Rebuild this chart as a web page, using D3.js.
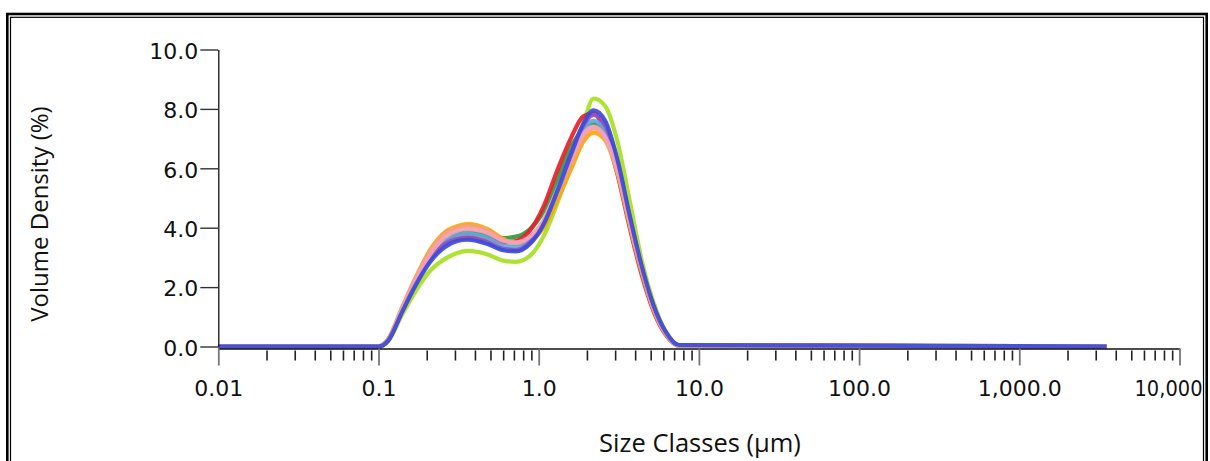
<!DOCTYPE html>
<html>
<head>
<meta charset="utf-8">
<script src="https://cdn.jsdelivr.net/npm/d3@7"></script>
<style>
  html, body { margin: 0; padding: 0; background: #fff; }
</style>
</head>
<body>
<svg id="chart"></svg>
<script>
// size classes (µm)
const sizes = [0.01, 0.1, 0.115, 0.14, 0.17, 0.21, 0.26, 0.31, 0.36, 0.48, 0.59, 0.72, 0.88,
  1.07, 1.3, 1.6, 1.9, 2.2, 2.6, 3.1, 3.7, 4.4, 5.2, 6.2, 7.5, 3500];

// volume density (%) per measurement
const lime = [0, 0, 0.18, 1.05, 1.85, 2.55, 2.95, 3.15, 3.22, 3.1, 2.9, 2.85, 3.05,
  3.7, 4.8, 6.2, 7.5, 8.35, 8.1, 6.9, 4.9, 2.9, 1.5, 0.5, 0.05, 0];
const green = [0, 0, 0.22, 1.22, 2.2, 3.05, 3.6, 3.8, 3.85, 3.75, 3.65, 3.7, 3.95,
  4.55, 5.6, 6.75, 7.3, 7.5, 7.1, 5.9, 4.15, 2.5, 1.25, 0.42, 0.04, 0];
const red = [0, 0, 0.22, 1.2, 2.15, 3.0, 3.5, 3.7, 3.75, 3.62, 3.5, 3.55, 3.9,
  4.7, 5.9, 7.05, 7.75, 7.85, 7.2, 5.8, 4.0, 2.4, 1.2, 0.4, 0.03, 0];
const orange = [0, 0, 0.25, 1.3, 2.3, 3.25, 3.85, 4.05, 4.12, 3.95, 3.65, 3.45, 3.55,
  4.0, 4.9, 6.0, 6.9, 7.2, 6.95, 5.85, 4.1, 2.5, 1.25, 0.42, 0.04, 0];
const salmon = [0, 0, 0.24, 1.28, 2.28, 3.2, 3.8, 4.0, 4.05, 3.9, 3.6, 3.5, 3.65,
  4.15, 5.1, 6.2, 7.05, 7.35, 7.0, 5.9, 4.15, 2.55, 1.3, 0.45, 0.04, 0];
const lightBlue = [0, 0, 0.22, 1.2, 2.15, 3.0, 3.55, 3.75, 3.8, 3.65, 3.42, 3.35, 3.55,
  4.15, 5.2, 6.4, 7.3, 7.6, 7.25, 6.05, 4.25, 2.6, 1.32, 0.46, 0.04, 0];
const purple = [0, 0, 0.21, 1.18, 2.1, 2.92, 3.45, 3.62, 3.65, 3.5, 3.3, 3.25, 3.5,
  4.15, 5.25, 6.55, 7.45, 7.8, 7.45, 6.2, 4.35, 2.65, 1.35, 0.48, 0.05, 0];
const pink = [0, 0, 0.23, 1.25, 2.22, 3.1, 3.68, 3.9, 3.95, 3.82, 3.58, 3.5, 3.7,
  4.25, 5.25, 6.35, 7.15, 7.4, 7.05, 5.95, 4.2, 2.6, 1.3, 0.45, 0.04, 0];
const blue = [0, 0, 0.2, 1.15, 2.05, 2.85, 3.35, 3.55, 3.6, 3.45, 3.25, 3.2, 3.45,
  4.1, 5.2, 6.5, 7.5, 7.95, 7.6, 6.3, 4.4, 2.7, 1.4, 0.5, 0.05, 0];

const seriesList = [lime, green, red, orange, salmon, lightBlue, purple, pink, blue];
const seriesColors = ["#a6e01e", "#2c9c3c", "#e8202a", "#ffa500", "#f4a07a",
  "#62a8e0", "#9450c4", "#f4a2b8", "#3c4cd6"];

// axis ticks
const xMajorTicks = [0.01, 0.1, 1, 10, 100, 1000, 10000];
const xTickLabels = ["0.01", "0.1", "1.0", "10.0", "100.0", "1,000.0", "10,000"];
const yTicks = [0, 2, 4, 6, 8, 10];
const yTickLabels = ["0.0", "2.0", "4.0", "6.0", "8.0", "10.0"];

// canvas variables
const width = 1210;
const height = 461;
const tickFont = "DejaVu Sans, sans-serif";
const titleFont = "Open Sans, sans-serif";

const svg = d3.select("#chart").attr("width", width).attr("height", height);

// scales
const xScale = d3.scaleLog().domain([0.01, 10000]).range([218.3, 1179.5]);
const yScale = d3.scaleLinear().domain([0, 10]).range([346.5, 49.5]);

const minorTicks = [];
xMajorTicks.slice(0, -1).forEach((d) => {
  for (let k = 2; k <= 9; k++) minorTicks.push(d * k);
});

// curves
const line = d3
  .line()
  .x((d, i) => xScale(sizes[i]))
  .y((d) => yScale(d))
  .curve(d3.curveMonotoneX);

svg
  .selectAll("path.series")
  .data(seriesList)
  .enter()
  .append("path")
  .attr("class", "series")
  .attr("d", (d) => line(d))
  .attr("fill", "none")
  .attr("stroke", (d, i) => seriesColors[i])
  .attr("stroke-width", 4.2)
  .attr("stroke-linejoin", "round")
  .attr("opacity", 0.92);

// x-axis minor ticks
const xMinor = svg
  .append("g")
  .attr("transform", "translate(0, 350.5)")
  .call(d3.axisBottom(xScale).tickValues(minorTicks).tickSize(10).tickFormat(""));
xMinor.select(".domain").remove();
xMinor.selectAll(".tick line").attr("stroke", "#222").attr("stroke-width", 1.6);

// x-axis major ticks + labels
const xMajor = svg
  .append("g")
  .attr("transform", "translate(0, 348.5)")
  .call(
    d3.axisBottom(xScale)
      .tickValues(xMajorTicks)
      .tickSize(17)
      .tickSizeOuter(0)
      .tickPadding(15)
      .tickFormat((d, i) => xTickLabels[i])
  );
xMajor.select(".domain").attr("stroke", "#111").attr("stroke-width", 1.3);
xMajor.selectAll(".tick line").attr("stroke", "#777").attr("stroke-width", 1.8);
xMajor.selectAll(".tick text")
  .attr("fill", "#111")
  .style("font-family", tickFont)
  .style("font-size", "22px");

// last label sits against the frame, as in the original
xMajor.selectAll(".tick text")
  .filter((d) => d === 10000)
  .attr("text-anchor", "start")
  .attr("x", 1134 - 1179.5)
  .attr("textLength", 68)
  .attr("lengthAdjust", "spacingAndGlyphs");

// y-axis
const yAxis = svg
  .append("g")
  .attr("transform", "translate(218.3, 0)")
  .call(
    d3.axisLeft(yScale)
      .tickValues(yTicks)
      .tickSize(18)
      .tickSizeOuter(0)
      .tickPadding(2)
      .tickFormat((d, i) => yTickLabels[i])
  );
yAxis.select(".domain").attr("stroke", "#111").attr("stroke-width", 1.3);
yAxis.selectAll(".tick line").attr("stroke", "#333").attr("stroke-width", 1.4);
yAxis.selectAll(".tick text")
  .attr("fill", "#111")
  .attr("dy", "0.4em")
  .style("font-family", tickFont)
  .style("font-size", "22px");

// axis titles
svg
  .append("text")
  .attr("x", 700)
  .attr("y", 452)
  .style("text-anchor", "middle")
  .style("font-family", titleFont)
  .style("font-size", "25.5px")
  .attr("fill", "#111")
  .text("Size Classes (µm)");

svg
  .append("text")
  .attr("transform", "translate(48, 214) rotate(-90)")
  .style("text-anchor", "middle")
  .style("font-family", titleFont)
  .style("font-size", "24px")
  .attr("fill", "#111")
  .text("Volume Density (%)");

// double frame
svg.append("rect")
  .attr("x", 7.3).attr("y", 14).attr("width", 1199.4).attr("height", 500)
  .attr("fill", "none").attr("stroke", "#000").attr("stroke-width", 2.6);
svg.append("rect")
  .attr("x", 10.5).attr("y", 17.3).attr("width", 1193).attr("height", 500)
  .attr("fill", "none").attr("stroke", "#000").attr("stroke-width", 1.2);
</script>
</body>
</html>
